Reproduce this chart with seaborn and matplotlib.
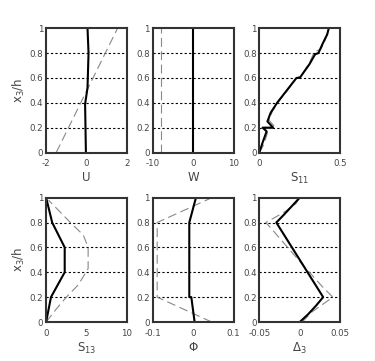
import numpy as np
import pandas as pd
import matplotlib
matplotlib.use("Agg")
import matplotlib.pyplot as plt
import seaborn as sns

sns.set_style("white")
plt.rcParams['font.family'] = ['DejaVu Sans']
plt.rcParams['mathtext.fontset'] = 'dejavusans'

# ---- data ----
U_solid_x = [-0.03, -0.07, 0.05, 0.10, 0.05]
U_solid_y = [0.0, 0.39, 0.52, 0.80, 1.0]
U_dash_x = [-1.5, 1.54]
U_dash_y = [0.0, 1.0]

W_solid_x = [0.0, 0.0]
W_solid_y = [0.0, 1.0]
W_dash_x = [-8.0, -8.0]
W_dash_y = [0.0, 1.0]

S11_solid_x = [0.0, 0.02, 0.045, 0.02, 0.085, 0.05, 0.07, 0.11, 0.17, 0.23, 0.25, 0.31, 0.345, 0.366, 0.39, 0.42, 0.43]
S11_solid_y = [0.0, 0.08, 0.17, 0.20, 0.20, 0.25, 0.32, 0.40, 0.50, 0.60, 0.60, 0.71, 0.79, 0.80, 0.87, 0.95, 1.0]
S11_dash_x = [0.0, 0.03, 0.05, 0.03, 0.10, 0.06, 0.08, 0.12, 0.18, 0.23, 0.26, 0.31, 0.34, 0.38, 0.40, 0.42, 0.43]
S11_dash_y = [0.0, 0.07, 0.16, 0.19, 0.20, 0.26, 0.33, 0.41, 0.51, 0.60, 0.62, 0.72, 0.81, 0.83, 0.88, 0.95, 1.0]

S13_solid_x = [0.0, 0.6, 2.3, 2.3, 0.75, 0.0]
S13_solid_y = [0.0, 0.2, 0.4, 0.6, 0.8, 1.0]
S13_dash_x = [0.0, 1.2, 2.5, 4.0, 5.2, 5.2, 4.6, 3.0, 1.5, 0.3]
S13_dash_y = [0.0, 0.1, 0.2, 0.3, 0.43, 0.6, 0.7, 0.8, 0.9, 0.98]

Phi_solid_x = [0.0037, -0.0045, -0.0095, -0.0095, 0.007]
Phi_solid_y = [0.0, 0.2, 0.2, 0.8, 1.0]
Phi_dash_x = [0.046, -0.089, -0.089, 0.0465]
Phi_dash_y = [0.0, 0.2, 0.8, 1.0]

D3_solid_x = [0.0, 0.01, 0.02, 0.029, -0.029, -0.02, -0.01, 0.0]
D3_solid_y = [0.0, 0.06, 0.13, 0.2, 0.8, 0.86, 0.93, 1.0]
D3_dash_x = [0.003, 0.015, 0.041, 0.03, 0.005, -0.015, -0.035, -0.042, -0.02, -0.005, 0.0]
D3_dash_y = [0.0, 0.08, 0.2, 0.27, 0.45, 0.6, 0.75, 0.8, 0.88, 0.95, 1.0]

panels = [
    ("U", (-2, 2), [-2, 0, 2], ["-2", "0", "2"], U_solid_x, U_solid_y, U_dash_x, U_dash_y),
    ("W", (-10, 10), [-10, 0, 10], ["-10", "0", "10"], W_solid_x, W_solid_y, W_dash_x, W_dash_y),
    ("S$_{11}$", (0, 0.5), [0, 0.5], ["0", "0.5"], S11_solid_x, S11_solid_y, S11_dash_x, S11_dash_y),
    ("S$_{13}$", (0, 10), [0, 5, 10], ["0", "5", "10"], S13_solid_x, S13_solid_y, S13_dash_x, S13_dash_y),
    ("\u03a6", (-0.1, 0.1), [-0.1, 0, 0.1], ["-0.1", "0", "0.1"], Phi_solid_x, Phi_solid_y, Phi_dash_x, Phi_dash_y),
    ("\u0394$_3$", (-0.05, 0.05), [-0.05, 0, 0.05], ["-0.05", "0", "0.05"], D3_solid_x, D3_solid_y, D3_dash_x, D3_dash_y),
]

yticks = [0, 0.2, 0.4, 0.6, 0.8, 1]
ylabels = ["0", "0.2", "0.4", "0.6", "0.8", "1"]

fig, axes = plt.subplots(2, 3, figsize=(3.75, 3.61), dpi=100)
fig.subplots_adjust(left=0.123, right=0.907, top=0.922, bottom=0.108, wspace=0.32, hspace=0.363)

for i, (ax, p) in enumerate(zip(axes.flat, panels)):
    name, xlim, xt, xtl, sx, sy, dx, dy = p
    for g in [0.2, 0.4, 0.6, 0.8]:
        ax.axhline(g, color="black", lw=0.8, ls=(0, (2, 2)), zorder=0)
    sns.lineplot(x=dx, y=dy, sort=False, estimator=None, ax=ax, color="#888888",
                 lw=0.8, linestyle=(0, (8, 4)))
    sns.lineplot(x=sx, y=sy, sort=False, estimator=None, ax=ax, color="black", lw=1.5)
    ax.set_xlim(*xlim)
    ax.set_ylim(0, 1)
    ax.set_xticks(xt)
    ax.set_xticklabels(xtl)
    ax.set_yticks(yticks)
    ax.set_yticklabels(ylabels)
    ax.tick_params(labelsize=6.2, colors="#444444", length=2, direction="in")
    ax.tick_params(axis="x", pad=5)
    ax.tick_params(axis="y", pad=2)
    ax.set_xlabel(name, fontsize=8.5, color="#444444", labelpad=2)
    if i % 3 == 0:
        ax.set_ylabel("x$_3$/h", fontsize=8.5, color="#444444", labelpad=2)
    for s in ax.spines.values():
        s.set_linewidth(1.5)
        s.set_color("#333333")
        s.set_visible(True)

fig.savefig("out.png", dpi=100)
